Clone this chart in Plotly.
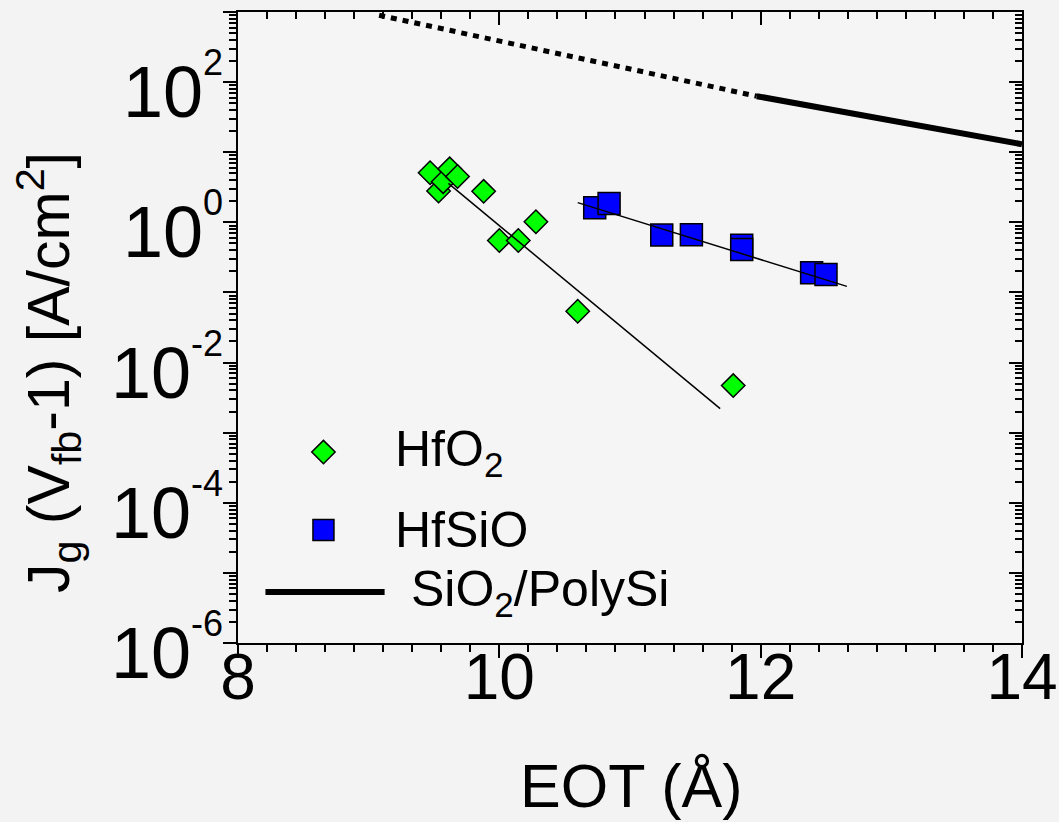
import plotly.graph_objects as go

# ---------------- data ----------------
hfo2_eot = [9.47, 9.535, 9.57, 9.62, 9.68, 9.88, 10.0, 10.145, 10.28, 10.60, 11.79]
hfo2_jg = [5.1, 2.8, 3.8, 5.8, 4.5, 2.77, 0.55, 0.55, 1.02, 0.054, 0.0047]

hfsio_eot = [10.73, 10.84, 11.243, 11.47, 11.855, 11.855, 12.39, 12.5]
hfsio_jg = [1.62, 1.85, 0.66, 0.667, 0.47, 0.41, 0.191, 0.181]

hfo2_fit_eot = [9.61, 11.69]
hfo2_fit_jg = [3.6, 0.0022]

hfsio_fit_eot = [10.6, 12.66]
hfsio_fit_jg = [1.91, 0.122]

sio2_extrap_eot = [9.08, 11.97]
sio2_extrap_jg = [900, 63]
sio2_eot = [11.97, 14.0]
sio2_jg = [63, 13]

x_ticks = [8, 10, 12, 14]
y_decades = [-6, -5, -4, -3, -2, -1, 0, 1, 2, 3]

legend_labels = ["HfO<sub>2</sub>", "HfSiO", "SiO<sub>2</sub>/PolySi"]
x_title = "EOT (Å)"
y_title = "J<sub>g</sub> (V<sub>fb</sub>-1) [A/cm<sup>2</sup>]"

# ---------------- style ----------------
FONT = "Arial, Liberation Sans, Helvetica, sans-serif"
GREEN = "#00FF00"
BLUE = "#0000FF"
X_RANGE = [8, 14]
Y_RANGE = [-6, 3]

fig = go.Figure()

fig.add_trace(go.Scatter(
    x=hfo2_eot, y=hfo2_jg, mode="markers", showlegend=False,
    marker=dict(symbol="diamond", size=18, color=GREEN, line=dict(color="black", width=1.5))))
fig.add_trace(go.Scatter(
    x=hfsio_eot, y=hfsio_jg, mode="markers", showlegend=False,
    marker=dict(symbol="square", size=22, color=BLUE, line=dict(color="black", width=1.5))))
fig.add_trace(go.Scatter(
    x=hfo2_fit_eot, y=hfo2_fit_jg, mode="lines", showlegend=False,
    line=dict(color="black", width=1.5)))
fig.add_trace(go.Scatter(
    x=hfsio_fit_eot, y=hfsio_fit_jg, mode="lines", showlegend=False,
    line=dict(color="black", width=1.5)))
fig.add_trace(go.Scatter(
    x=sio2_extrap_eot, y=sio2_extrap_jg, mode="lines", showlegend=False,
    line=dict(color="black", width=5, dash="6px,6px")))
fig.add_trace(go.Scatter(
    x=sio2_eot, y=sio2_jg, mode="lines", showlegend=False,
    line=dict(color="black", width=6)))

# empty trace to register the mirrored (top/right) tick axes
fig.add_trace(go.Scatter(x=[], y=[], xaxis="x3", yaxis="y3", showlegend=False, hoverinfo="skip"))

# ---------------- custom legend (on a hidden overlay axis 0..1) ----------------
leg_x_marker = 0.109
leg_y = [0.3026, 0.179, 0.0808]
leg_line_x = [0.035, 0.187]
leg_text_x = [0.1975, 0.1975, 0.2185]

fig.add_trace(go.Scatter(
    x=[leg_x_marker], y=[leg_y[0]], xaxis="x2", yaxis="y2", mode="markers", showlegend=False,
    hoverinfo="skip",
    marker=dict(symbol="diamond", size=18, color=GREEN, line=dict(color="black", width=1.5))))
fig.add_trace(go.Scatter(
    x=[leg_x_marker], y=[leg_y[1]], xaxis="x2", yaxis="y2", mode="markers", showlegend=False,
    hoverinfo="skip",
    marker=dict(symbol="square", size=21, color=BLUE, line=dict(color="black", width=1.5))))
fig.add_trace(go.Scatter(
    x=leg_line_x, y=[leg_y[2], leg_y[2]], xaxis="x2", yaxis="y2", mode="lines", showlegend=False,
    hoverinfo="skip", line=dict(color="black", width=6)))

for lbl, tx, ty in zip(legend_labels, leg_text_x, leg_y):
    fig.add_annotation(text=lbl, x=tx, y=ty, xref="paper", yref="paper",
                       xanchor="left", yanchor="middle", showarrow=False,
                       font=dict(family=FONT, size=50, color="black"))

# axis titles as annotations for exact placement
fig.add_annotation(text=x_title, x=0.502, y=-0.227, xref="paper", yref="paper",
                   xanchor="center", yanchor="middle", showarrow=False,
                   font=dict(family=FONT, size=61, color="black"))
fig.add_annotation(text=y_title, x=-0.241, y=0.428, xref="paper", yref="paper",
                   xanchor="center", yanchor="middle", showarrow=False, textangle=-90,
                   font=dict(family=FONT, size=59, color="black"))

# ---------------- axes ----------------
minor_y = [m * 10 ** d for d in range(-6, 3) for m in range(2, 10)]
ytext = [("<span style='font-size:72px'>10</span><sup><span style='font-size:36px'>%d</span></sup>" % d)
         if d % 2 == 0 and d < 3 else "" for d in y_decades]
y_major = [10 ** d for d in y_decades]

common = dict(showgrid=False, zeroline=False, automargin=False, tickcolor="black",
              tickwidth=2, ticklen=13, showline=True, linecolor="black", linewidth=2)

fig.update_layout(
    template="none",
    width=1059, height=822, autosize=False,
    margin=dict(l=238, r=37, t=12, b=179, pad=0),
    paper_bgcolor="#f3f3f3", plot_bgcolor="#f5f5f5",
    font=dict(family=FONT, color="black"),
    showlegend=False,
    xaxis=dict(
        range=X_RANGE, tickvals=x_ticks, ticktext=[str(v) for v in x_ticks],
        ticks="outside", side="bottom", mirror=False, ticklabelstandoff=-36,
        tickfont=dict(family=FONT, size=64),
        minor=dict(dtick=2 / 9, tick0=8, ticks="outside", ticklen=7, tickwidth=2,
                   tickcolor="black", showgrid=False),
        **common,
    ),
    yaxis=dict(
        type="log", range=Y_RANGE,
        tickvals=y_major, ticktext=ytext,
        ticks="outside", side="left", mirror=False, ticklabelstandoff=-20,
        tickfont=dict(family=FONT, size=100),
        minor=dict(tickvals=minor_y, ticks="outside", ticklen=7, tickwidth=2,
                   tickcolor="black", showgrid=False),
        **common,
    ),
    xaxis3=dict(
        overlaying="x", side="top", anchor="y3", range=X_RANGE, tickvals=x_ticks,
        ticks="inside", showticklabels=False,
        minor=dict(dtick=2 / 9, tick0=8, ticks="inside", ticklen=7, tickwidth=2,
                   tickcolor="black", showgrid=False),
        **common,
    ),
    yaxis3=dict(
        overlaying="y", side="right", anchor="x3", type="log", range=Y_RANGE,
        tickvals=y_major, ticks="inside", showticklabels=False,
        minor=dict(tickvals=minor_y, ticks="inside", ticklen=7, tickwidth=2,
                   tickcolor="black", showgrid=False),
        **common,
    ),
    xaxis2=dict(overlaying="x", range=[0, 1], visible=False, fixedrange=True),
    yaxis2=dict(overlaying="y", range=[0, 1], visible=False, fixedrange=True),
)

fig.write_html("out.html")
